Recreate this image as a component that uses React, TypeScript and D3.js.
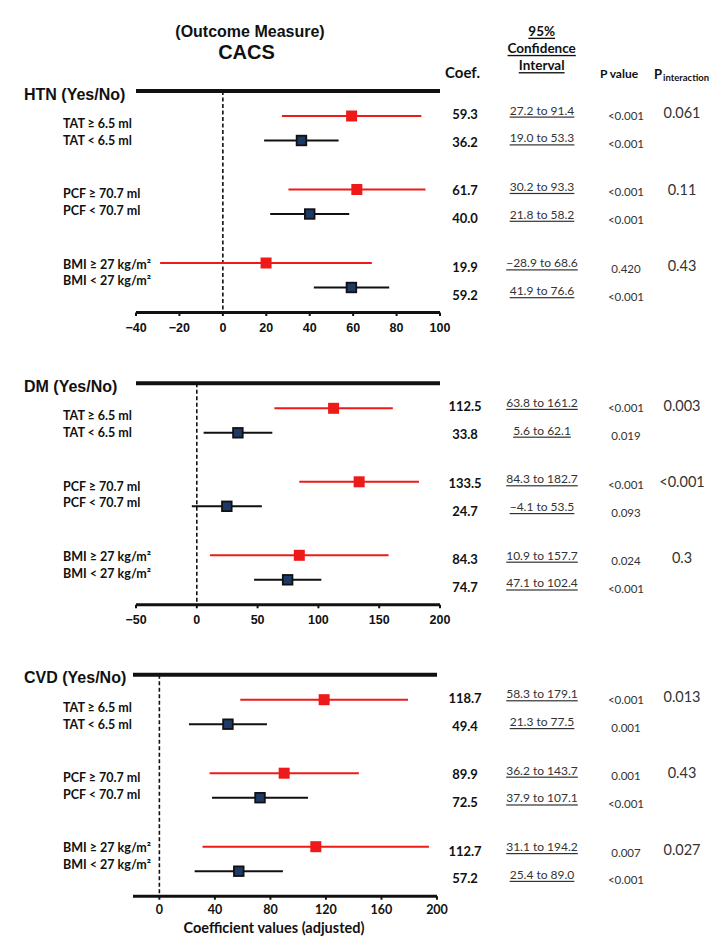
import React from "react";
import * as d3 from "d3";

// ---------- data ----------
const outcomes = ["HTN (Yes/No)", "DM (Yes/No)", "CVD (Yes/No)"];
const subgroups = [
  "TAT ≥ 6.5 ml",
  "TAT < 6.5 ml",
  "PCF ≥ 70.7 ml",
  "PCF < 70.7 ml",
  "BMI ≥ 27 kg/m²",
  "BMI < 27 kg/m²",
];
const htnCoef = [59.3, 36.2, 61.7, 40.0, 19.9, 59.2];
const htnLow = [27.2, 19.0, 30.2, 21.8, -28.9, 41.9];
const htnHigh = [91.4, 53.3, 93.3, 58.2, 68.6, 76.6];
const htnP = ["<0.001", "<0.001", "<0.001", "<0.001", "0.420", "<0.001"];
const htnPint = ["0.061", "0.11", "0.43"];

const dmCoef = [112.5, 33.8, 133.5, 24.7, 84.3, 74.7];
const dmLow = [63.8, 5.6, 84.3, -4.1, 10.9, 47.1];
const dmHigh = [161.2, 62.1, 182.7, 53.5, 157.7, 102.4];
const dmP = ["<0.001", "0.019", "<0.001", "0.093", "0.024", "<0.001"];
const dmPint = ["0.003", "<0.001", "0.3"];

const cvdCoef = [118.7, 49.4, 89.9, 72.5, 112.7, 57.2];
const cvdLow = [58.3, 21.3, 36.2, 37.9, 31.1, 25.4];
const cvdHigh = [179.1, 77.5, 143.7, 107.1, 194.2, 89.0];
const cvdP = ["<0.001", "0.001", "0.001", "<0.001", "0.007", "<0.001"];
const cvdPint = ["0.013", "0.43", "0.027"];

const htnTicks = [-40, -20, 0, 20, 40, 60, 80, 100];
const dmTicks = [-50, 0, 50, 100, 150, 200];
const cvdTicks = [0, 40, 80, 120, 160, 200];
const htnDomain = [-40, 100];
const dmDomain = [-50, 200];
const cvdDomain = [-19, 200];

const panelsData = [
  { coef: htnCoef, low: htnLow, high: htnHigh, p: htnP, pint: htnPint, ticks: htnTicks, domain: htnDomain },
  { coef: dmCoef, low: dmLow, high: dmHigh, p: dmP, pint: dmPint, ticks: dmTicks, domain: dmDomain },
  { coef: cvdCoef, low: cvdLow, high: cvdHigh, p: cvdP, pint: cvdPint, ticks: cvdTicks, domain: cvdDomain },
];

// ---------- layout ----------
const W = 726;
const H = 951;
const panelTop = [91, 383.3, 674.7];
const panelX = [
  [136, 440],
  [136, 440],
  [133, 437],
];
const rowSlots = [0, 1, 3, 4, 6, 7];
const ARIAL = "'Liberation Sans', Arial, sans-serif";
const CAL = "Lato, 'Open Sans', sans-serif";
const RED = "#ee1a1a";
const NAVY = "#1d3a66";
const INK = "#111";

const f1 = d3.format(".1f");
const fTick = d3.format("d");

function Panel({ i }: { i: number }) {
  const d = panelsData[i];
  const y0 = panelTop[i];
  const [xa, xb] = panelX[i];
  const x = d3.scaleLinear().domain(d.domain).range([xa, xb]);
  const yRow = d3.scaleLinear().domain([0, 7]).range([y0 + 25, y0 + 196.5]);
  const axisY = y0 + 221.5;
  const labelY = (k: number) => y0 + 40.9 + Math.floor(k / 2) * 70.3 + (k % 2 === 0 ? -8.4 : 8.4);
  const tableY = (k: number) => y0 + 36.9 + Math.floor(k / 2) * 76.4 + (k % 2 === 0 ? -13.9 : 13.9);
  const tickFont = i === 2 ? CAL : ARIAL;
  return (
    <g>
      <text x={24} y={y0 + 3} fontFamily={ARIAL} fontWeight={700} fontSize={16} dominantBaseline="central" fill={INK}>
        {outcomes[i]}
      </text>
      <line x1={xa} x2={xb} y1={y0} y2={y0} stroke={INK} strokeWidth={4} />
      <line x1={x(0)} x2={x(0)} y1={y0} y2={axisY} stroke={INK} strokeWidth={1.6} strokeDasharray="4,2.5" />
      <line x1={xa} x2={xb} y1={axisY} y2={axisY} stroke={INK} strokeWidth={3} />
      {d.ticks.map((t) => (
        <g key={t}>
          <line x1={x(t)} x2={x(t)} y1={axisY} y2={axisY + 3.5} stroke={INK} strokeWidth={2} />
          <text
            x={x(t)}
            y={axisY + (i === 2 ? 13.5 : 15)}
            textAnchor="middle"
            dominantBaseline="central"
            fontFamily={tickFont}
            fontWeight={700}
            fontSize={i === 2 ? 12.5 : 12.5}
            fill={INK}
          >
            {fTick(t)}
          </text>
        </g>
      ))}
      {d.coef.map((c, k) => {
        const y = yRow(rowSlots[k]);
        const red = k % 2 === 0;
        return (
          <g key={k}>
            <line x1={x(d.low[k])} x2={x(d.high[k])} y1={y} y2={y} stroke={red ? RED : INK} strokeWidth={2} />
            {red ? (
              <rect x={x(c) - 5.5} y={y - 5.5} width={11} height={11} fill={RED} />
            ) : (
              <rect x={x(c) - 4.8} y={y - 4.8} width={9.6} height={9.6} fill={NAVY} stroke={INK} strokeWidth={1.8} />
            )}
          </g>
        );
      })}
      {subgroups.map((s, k) => (
        <text key={s} x={63} y={labelY(k)} dominantBaseline="central" fontFamily={CAL} fontWeight={700} fontSize={12.5} fill={INK}>
          {s}
        </text>
      ))}
      {d.coef.map((c, k) => (
        <g key={"t" + k}>
          <text x={465} y={tableY(k)} textAnchor="middle" dominantBaseline="central" fontFamily={CAL} fontWeight={700} fontSize={13} fill={INK}>
            {f1(c)}
          </text>
          <text
            x={542}
            y={tableY(k) - 4}
            textAnchor="middle"
            dominantBaseline="central"
            fontFamily={CAL}
            fontSize={12}
            fill="#333"
            style={{ textDecoration: "underline" }}
          >
            {`${f1(d.low[k])} to ${f1(d.high[k])}`}
          </text>
          <text x={626} y={tableY(k) + 1.5} textAnchor="middle" dominantBaseline="central" fontFamily={CAL} fontSize={11.5} fill="#333">
            {d.p[k]}
          </text>
        </g>
      ))}
      {d.pint.map((p, g) => (
        <text key={"pi" + g} x={682} y={tableY(g * 2) - 1.3} textAnchor="middle" dominantBaseline="central" fontFamily={CAL} fontSize={14.5} fill="#333">
          {p}
        </text>
      ))}
    </g>
  );
}

export default function App() {
  return (
    <svg width={W} height={H} style={{ position: "absolute", left: 0, top: 0, background: "#fff" }}>
      <rect width={W} height={H} fill="#fff" />
      <text x={250} y={31.7} textAnchor="middle" dominantBaseline="central" fontFamily={ARIAL} fontWeight={700} fontSize={16} fill={INK}>
        (Outcome Measure)
      </text>
      <text x={246.5} y={52} textAnchor="middle" dominantBaseline="central" fontFamily={ARIAL} fontWeight={700} fontSize={20} fill={INK}>
        CACS
      </text>
      <text x={462.5} y={71.7} textAnchor="middle" dominantBaseline="central" fontFamily={CAL} fontWeight={700} fontSize={15} fill={INK}>
        Coef.
      </text>
      {["95%", "Confidence", "Interval"].map((t, k) => (
        <text
          key={t}
          x={541.7}
          y={30.7 + k * 17.2}
          textAnchor="middle"
          dominantBaseline="central"
          fontFamily={CAL}
          fontWeight={700}
          fontSize={13.5}
          fill={INK}
          style={{ textDecoration: "underline" }}
        >
          {t}
        </text>
      ))}
      <text x={619} y={73.3} textAnchor="middle" dominantBaseline="central" fontFamily={CAL} fontWeight={700} fontSize={12} fill={INK}>
        P value
      </text>
      <text x={654} y={74} dominantBaseline="central" fontFamily={CAL} fontWeight={700} fontSize={13} fill={INK}>
        P
      </text>
      <text x={663} y={77} dominantBaseline="central" fontFamily={CAL} fontWeight={700} fontSize={9.5} fill={INK}>
        interaction
      </text>
      {[0, 1, 2].map((i) => (
        <Panel key={i} i={i} />
      ))}
      <text x={274} y={927.5} textAnchor="middle" dominantBaseline="central" fontFamily={CAL} fontWeight={700} fontSize={14.5} fill={INK}>
        Coefficient values (adjusted)
      </text>
    </svg>
  );
}
